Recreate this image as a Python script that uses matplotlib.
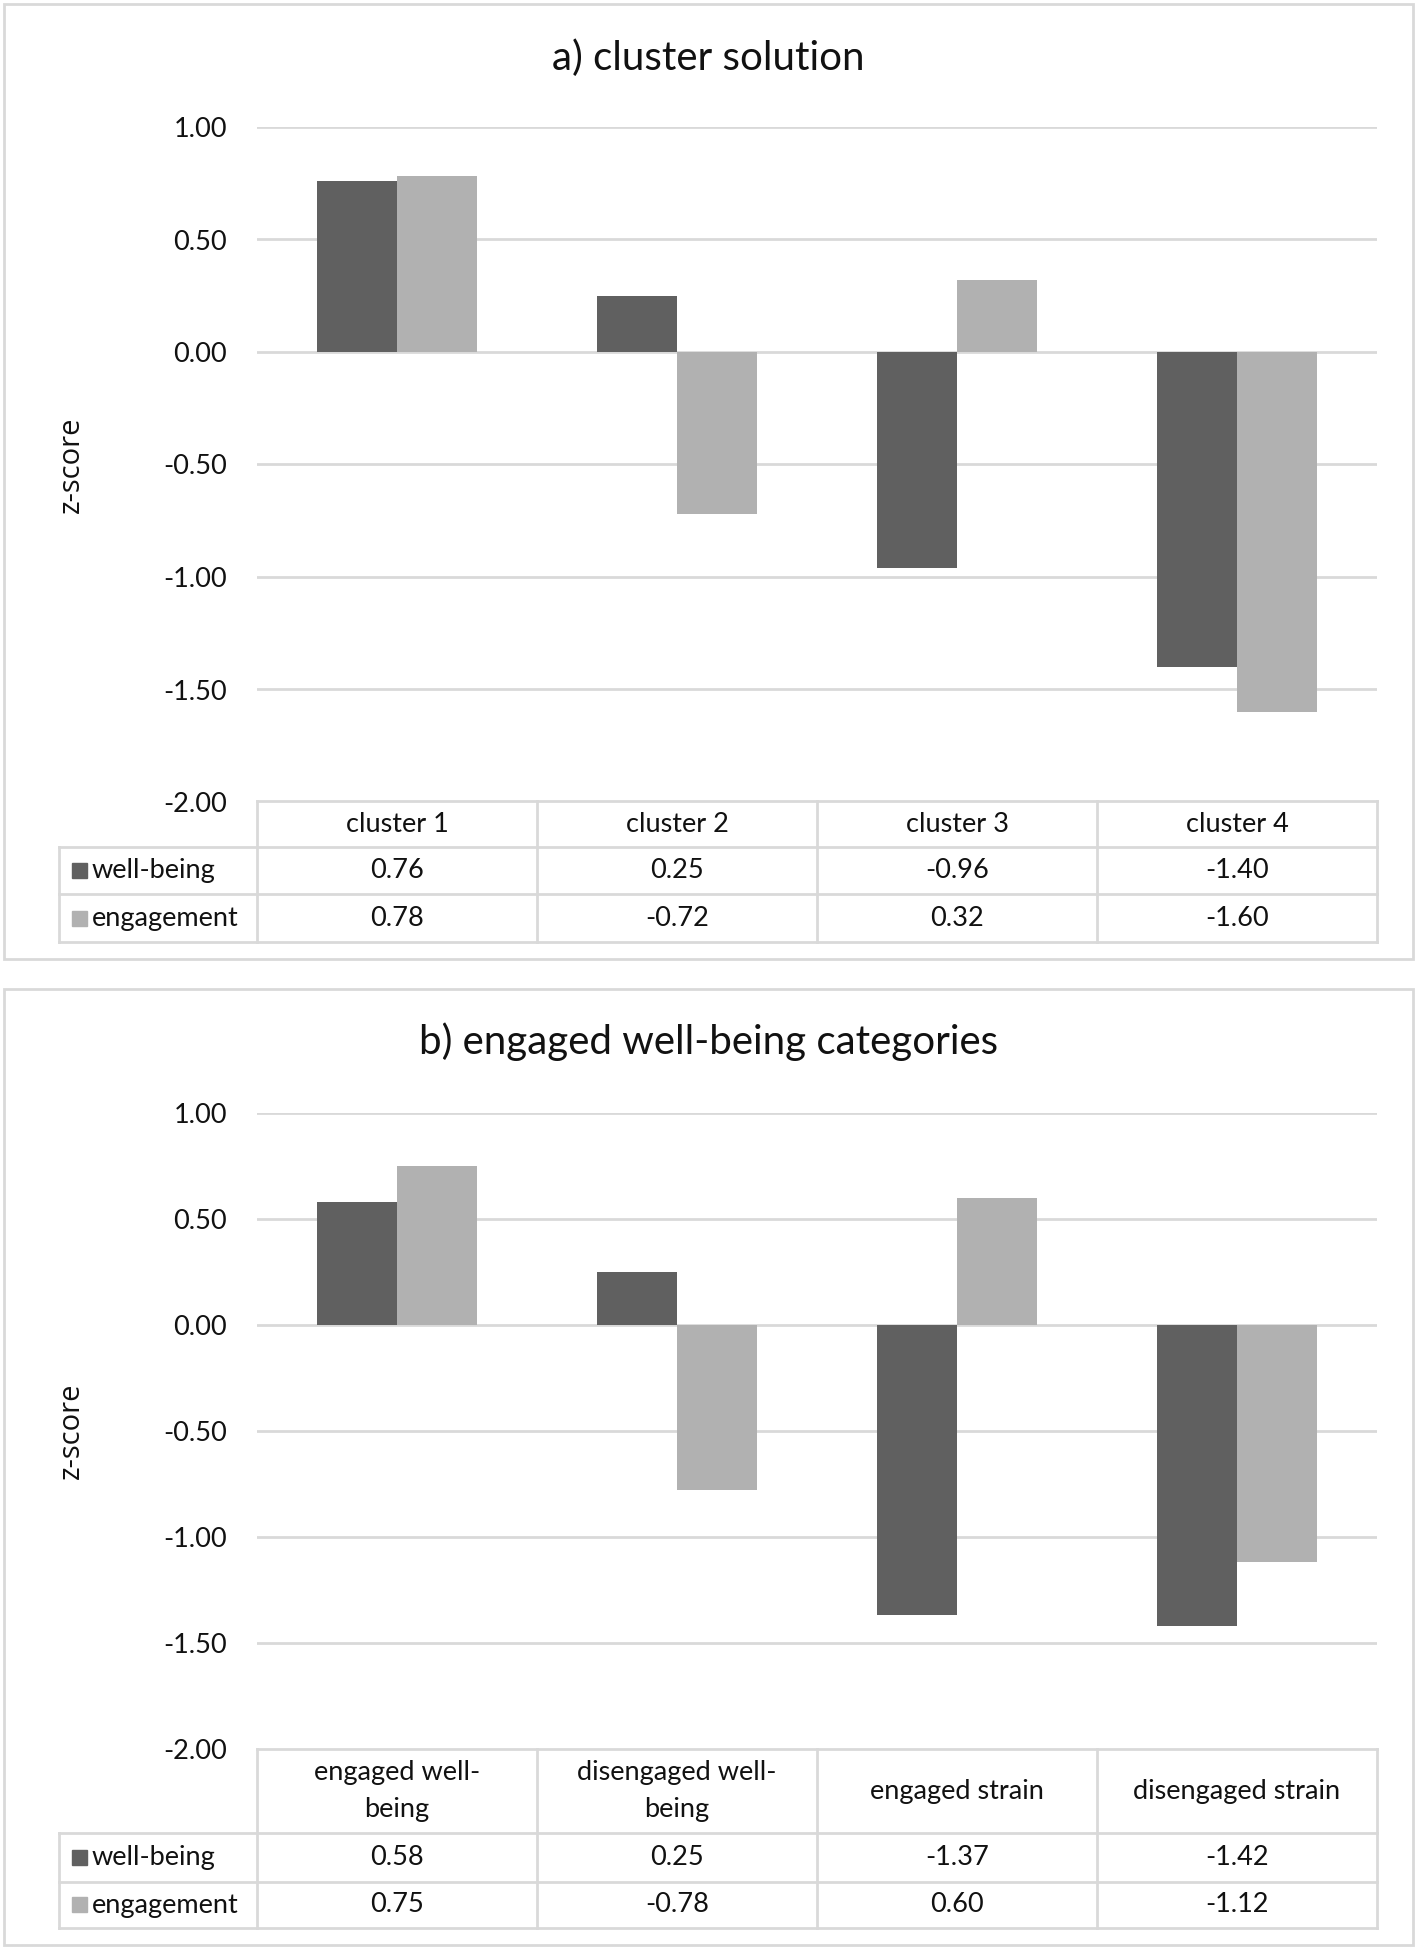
import numpy as np
import matplotlib
matplotlib.use('Agg')
import matplotlib.pyplot as plt
from matplotlib.patches import Rectangle

plt.rcParams['font.family'] = ['Lato', 'DejaVu Sans']

W, H = 1418, 1951
DPI = 100

# data
series_names = ['well-being', 'engagement']

categories_a = ['cluster 1', 'cluster 2', 'cluster 3', 'cluster 4']
wellbeing_a = [0.76, 0.25, -0.96, -1.40]
engagement_a = [0.78, -0.72, 0.32, -1.60]

categories_b = ['engaged well-\nbeing', 'disengaged well-\nbeing',
                'engaged strain', 'disengaged strain']
wellbeing_b = [0.58, 0.25, -1.37, -1.42]
engagement_b = [0.75, -0.78, 0.60, -1.12]

yticks = [1.0, 0.5, 0.0, -0.5, -1.0, -1.5, -2.0]

# styles
series_colors = ['#606060', '#b1b1b1']
line_color = '#d9d9d9'
text_color = '#111111'
fs = 19.5


def fx(x):
    return x / W


def fy(y):
    return 1 - y / H


fig = plt.figure(figsize=(W / DPI, H / DPI), dpi=DPI)


def panel(box, title, title_y, axis_top, axis_bottom, rows, categories, values):
    x0, y0, x1, y1 = box
    # outer frame
    fig.add_artist(Rectangle((fx(x0), fy(y1)), fx(x1) - fx(x0), fy(y0) - fy(y1),
                             transform=fig.transFigure, fill=False,
                             edgecolor=line_color, lw=2))
    fig.text(fx((x0 + x1) / 2), fy(title_y), title, ha='center', va='center',
             fontsize=29, color=text_color)

    left, right, lab_left = 257, 1377, 59
    n = len(categories)

    # bars
    ax = fig.add_axes([fx(left), fy(axis_bottom), fx(right) - fx(left),
                       fy(axis_top) - fy(axis_bottom)])
    x = np.arange(n)
    w = 0.286
    for i, (vals, col) in enumerate(zip(values, series_colors)):
        ax.bar(x + (i - 0.5) * w, vals, w, color=col, zorder=3)
    ax.set_xlim(-0.5, n - 0.5)
    ax.set_ylim(-2, 1)
    for t in yticks[:-1]:
        ax.axhline(t, color=line_color, lw=2, zorder=1)
    ax.set_yticks(yticks)
    ax.set_yticklabels(['%.2f' % t for t in yticks], color=text_color)
    ax.tick_params(axis='y', length=0, pad=21.6, labelsize=fs)
    ax.set_xticks([])
    for s in ax.spines.values():
        s.set_visible(False)
    ax.patch.set_alpha(0)

    fig.text(fx(71), fy((axis_top + axis_bottom) / 2), 'z-score', rotation=90,
             ha='center', va='center', fontsize=21, color=text_color,
             family=['Open Sans', 'DejaVu Sans'])

    # data table below the axis, in pixel units
    tab = fig.add_axes([fx(lab_left), fy(rows[-1]), fx(right) - fx(lab_left),
                        fy(rows[0]) - fy(rows[-1])])
    tab.set_xlim(lab_left, right)
    tab.set_ylim(rows[-1], rows[0])
    tab.axis('off')
    cat_w = (right - left) / n
    edges = [left + k * cat_w for k in range(n + 1)]
    lk = dict(color=line_color, lw=2, clip_on=False)
    tab.plot([left, right], [rows[0], rows[0]], **lk)
    for r in rows[1:]:
        tab.plot([lab_left, right], [r, r], **lk)
    for e in edges:
        tab.plot([e, e], [rows[0], rows[-1]], **lk)
    tab.plot([lab_left, lab_left], [rows[1], rows[-1]], **lk)

    for k, cat in enumerate(categories):
        tab.text((edges[k] + edges[k + 1]) / 2, (rows[0] + rows[1]) / 2, cat,
                 ha='center', va='center', fontsize=fs, color=text_color,
                 linespacing=1.6)
    for i, (name, vals, col) in enumerate(zip(series_names, values, series_colors)):
        yc = (rows[i + 1] + rows[i + 2]) / 2
        tab.add_patch(Rectangle((72, yc - 7.5), 15, 15, color=col))
        tab.text(92, yc, name, ha='left', va='center', fontsize=fs, color=text_color)
        for k, v in enumerate(vals):
            tab.text((edges[k] + edges[k + 1]) / 2, yc, '%.2f' % v,
                     ha='center', va='center', fontsize=fs, color=text_color)


panel((4, 4, 1413, 959), 'a) cluster solution', 58, 127, 802,
      [801, 847, 894, 942], categories_a, [wellbeing_a, engagement_a])
panel((4, 989, 1413, 1945), 'b) engaged well-being categories', 1042, 1113, 1749,
      [1749, 1833, 1882, 1928], categories_b, [wellbeing_b, engagement_b])

fig.savefig('out.png', dpi=DPI)
